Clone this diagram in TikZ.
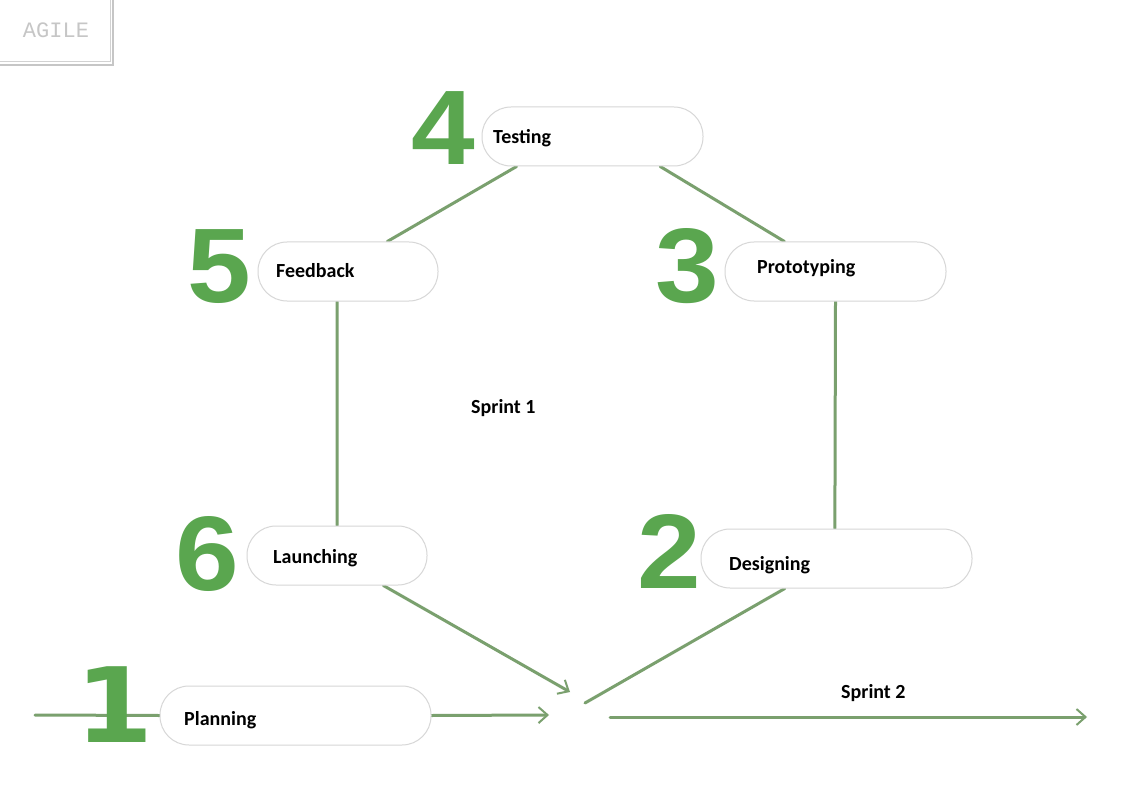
\documentclass[tikz,border=0pt]{standalone}
\usepackage{fontspec}
\setmainfont{Carlito}
\newfontfamily\numfont{Liberation Sans}
\newfontfamily\onefont{DejaVu Sans}
\newfontfamily\agilefont{Liberation Mono}
\usetikzlibrary{arrows.meta,calc}
\pgfdeclarelayer{background}
\pgfsetlayers{background,main}
\definecolor{numgreen}{RGB}{90,166,79}
\definecolor{linegreen}{RGB}{122,160,110}
\definecolor{pillgray}{RGB}{215,215,215}
\tikzset{
  pill/.style={draw=pillgray, line width=1pt, fill=white, rounded corners=29pt, minimum height=59pt, inner sep=0pt},
  lbl/.style={anchor=base west, font=\bfseries\fontsize{20}{23}\selectfont, inner sep=0pt},
  num/.style={anchor=base west, text=numgreen, font=\numfont\bfseries\fontsize{106}{110}\selectfont, inner sep=0pt, xscale=1.08},
  conn/.style={draw=linegreen, line width=3pt, line cap=round},
  tip/.style={-{Straight Barb[length=9pt,width=16pt,line width=2pt]}}
}
\begin{document}
\begin{tikzpicture}[x=1pt,y=-1pt]
\useasboundingbox (0,0) rectangle (1148,810);
% AGILE box
\draw[gray!35, line width=1pt] (-2,-2) -- (110,-2) -- (110,62) -- (-2,62);
\draw[gray!45, line width=1.2pt] (113,-2) -- (113,65) -- (-2,65);
\node[text=gray!45, font=\agilefont\fontsize{22}{24}\selectfont, anchor=center] (agile) at (56,30) {AGILE};
% numbers
\node[num] (n4) at (411,165) {4};
\node[num] (n5) at (187,302) {5};
\node[num] (n3) at (655,302) {3};
\node[num] (n6) at (175,590) {6};
\node[num] (n2) at (637,588) {2};
\node[num, font=\onefont\bfseries\fontsize{104}{110}\selectfont, xscale=1] (n1) at (75,742) {1};
% pills
\node[pill, minimum width=221pt] (test) at (592.5,136.5) {};
\node[pill, minimum width=180pt] (feed) at (348,271.5) {};
\node[pill, minimum width=221pt] (proto) at (835.5,271.5) {};
\node[pill, minimum width=180pt] (launch) at (337,555.5) {};
\node[pill, minimum width=271pt] (design) at (836.5,558.5) {};
\node[pill, minimum width=271pt] (plan) at (295.5,715.5) {};
% labels
\node[lbl] (ttest) at (493,144) {Testing};
\node[lbl] (tfeed) at (276,278) {Feedback};
\node[lbl] (tproto) at (757,274) {Prototyping};
\node[lbl] (tlaunch) at (273,563) {Launching};
\node[lbl] (tdesign) at (729,570) {Designing};
\node[lbl] (tplan) at (184,725) {Planning};
\node[lbl] (s1) at (471,413) {Sprint 1};
\node[lbl] (s2) at (841,698) {Sprint 2};
% free ends
\coordinate (inL) at (35,715);
\coordinate (planEnd) at (549,715);
\coordinate (launchEnd) at (570,692);
\coordinate (designEnd) at (585,703);
\coordinate (s2start) at (610,717);
\coordinate (s2end) at (1087,717);
\begin{pgfonlayer}{background}
\fill[white] (0,0) rectangle (1148,810);
\draw[conn] ($(test.south west)!0.158!(test.south east)$) -- ($(feed.north west)!0.717!(feed.north east)$);
\draw[conn] ($(test.south west)!0.805!(test.south east)$) -- ($(proto.north west)!0.27!(proto.north east)$);
\draw[conn] ($(feed.south west)!0.44!(feed.south east)$) -- ($(launch.north west)!0.5!(launch.north east)$);
\draw[conn] ($(proto.south west)!0.5!(proto.south east)$) -- ($(design.north west)!0.494!(design.north east)$);
\draw[conn, tip] ($(launch.south west)!0.756!(launch.south east)$) -- (launchEnd);
\draw[conn] ($(design.south west)!0.31!(design.south east)$) -- (designEnd);
\draw[conn] (inL) -- (plan.west);
\draw[conn, tip] (plan.east) -- (planEnd);
\draw[conn, tip] (s2start) -- (s2end);
\end{pgfonlayer}
\end{tikzpicture}
\end{document}
